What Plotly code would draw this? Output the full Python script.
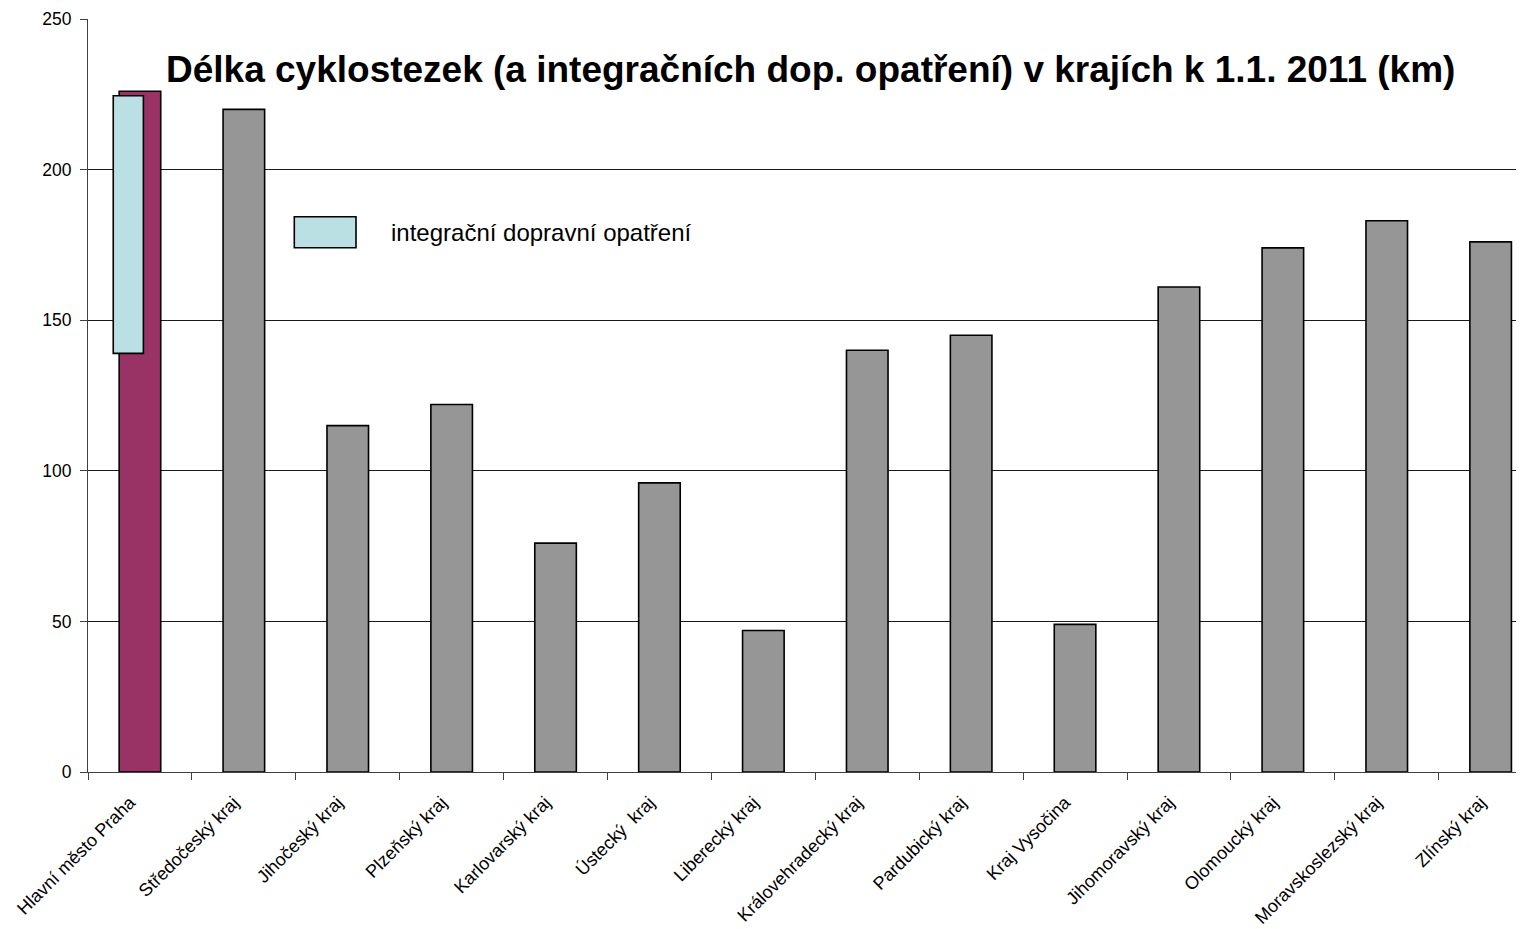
import plotly.graph_objects as go

regions = ["Hlavní město Praha", "Středočeský kraj", "Jihočeský kraj", "Plzeňský kraj",
           "Karlovarský kraj", "Ústecký  kraj", "Liberecký kraj", "Královehradecký kraj",
           "Pardubický kraj", "Kraj Vysočina", "Jihomoravský kraj", "Olomoucký kraj",
           "Moravskoslezský kraj", "Zlínský kraj"]
lengths_km = [226, 220, 115, 122, 76, 96, 47, 140, 145, 49, 161, 174, 183, 176]

integ_region = ["Hlavní město Praha"]
integ_low = [139]
integ_high = [224.5]

y_ticks = [0, 50, 100, 150, 200, 250]

title_text = "Délka cyklostezek (a integračních dop. opatření) v krajích k 1.1. 2011 (km)"
legend_text = "integrační dopravní opatření"

FONT = "Liberation Sans, Arial, sans-serif"
colors = ["#993366"] + ["#969696"] * (len(regions) - 1)

fig = go.Figure()
fig.add_trace(go.Bar(
    x=regions, y=lengths_km, width=0.4,
    marker=dict(color=colors, line=dict(color="#000000", width=1.6)),
    showlegend=False, hoverinfo="x+y",
))
fig.add_trace(go.Bar(
    x=integ_region, y=[h - l for h, l in zip(integ_high, integ_low)], base=integ_low,
    width=0.29, offset=-0.257,
    marker=dict(color="#BBE0E3", line=dict(color="#000000", width=1.6)),
    showlegend=False, name=legend_text,
))

# page has an 8px body margin; figure coords = page coords - 8
OFF = 8
W, H = 1524, 921
L, T = 88 - OFF, 19 - OFF
B = H - (772 - OFF)
pw = W - L
ph = H - T - B

def px_x(x):
    return (x - OFF - L) / pw

def px_y(y):
    return (H - B - (y - OFF)) / ph

fig.update_layout(
    width=W, height=H,
    margin=dict(l=L, r=0, t=T, b=B),
    paper_bgcolor="white", plot_bgcolor="white",
    barmode="overlay",
    font=dict(family=FONT, color="#000000"),
    xaxis=dict(
        range=[-0.5, -0.5 + pw / 103.9],
        tickangle=-45, tickfont=dict(size=18, family=FONT, color="#000"),
        ticklabelstandoff=12, ticklabelshift=-10,
        tickson="boundaries", ticks="outside", ticklen=7, tickcolor="#404040",
        showline=True, linecolor="#404040", linewidth=1, showgrid=False,
        categoryorder="array", categoryarray=regions,
    ),
    yaxis=dict(
        range=[0, 250], tickvals=y_ticks,
        tickfont=dict(size=17.5, family=FONT, color="#000"),
        ticklabelstandoff=5,
        ticks="outside", ticklen=7, tickcolor="#404040",
        showline=True, linecolor="#404040", linewidth=1,
        showgrid=True, gridcolor="#1a1a1a", gridwidth=1, zeroline=False,
    ),
    shapes=[dict(type="rect", xref="paper", yref="paper",
                 x0=px_x(294.3), x1=px_x(356), y0=px_y(247.7), y1=px_y(216.7),
                 fillcolor="#BBE0E3", line=dict(color="#000", width=1.6))],
    annotations=[
        dict(text="<b>" + title_text + "</b>", xref="paper", yref="paper",
             x=px_x(810), y=px_y(69), xanchor="center", yanchor="middle",
             showarrow=False, font=dict(size=37, family=FONT, color="#000")),
        dict(text=legend_text, xref="paper", yref="paper",
             x=px_x(389), y=px_y(233), xanchor="left", yanchor="middle",
             showarrow=False, font=dict(size=24, family=FONT, color="#000")),
    ],
)

fig.write_html("out.html")
